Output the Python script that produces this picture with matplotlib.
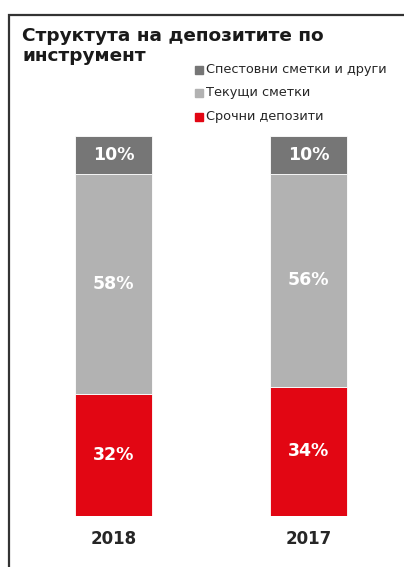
import matplotlib
matplotlib.use("Agg")
import matplotlib.pyplot as plt
from matplotlib.patches import Rectangle

years = ["2018", "2017"]
series_names = ["Срочни депозити", "Текущи сметки", "Спестовни сметки и други"]
term = [32, 34]
current = [58, 56]
savings = [10, 10]
colors = ["#E20613", "#B2B2B2", "#767676"]

W, H = 404, 567
fig = plt.figure(figsize=(W / 100, H / 100), dpi=100)
fig.patch.set_facecolor("white")

# Outer frame (left and top edges visible, the rest runs off the canvas)
frame = Rectangle((8.5 / W, -0.1), 1.2, (H - 14.5) / H + 0.1, transform=fig.transFigure,
                  fill=False, edgecolor="#333333", linewidth=1.6, zorder=0)
fig.add_artist(frame)

# Plot area mapped so that 0..100 % spans the bar heights
y_bot, y_top = 516, 136
ax = fig.add_axes([0, (H - y_bot) / H, 1, (y_bot - y_top) / H])
ax.set_ylim(0, 100)
c0, c1 = 113.5, 308.5
scale = c1 - c0
ax.set_xlim(-c0 / scale, (W - c0) / scale)
ax.axis("off")

x = list(range(len(years)))
bw = 77 / scale
bottom = [0] * len(years)
for vals, col in zip([term, current, savings], colors):
    ax.bar(x, vals, bw, bottom=bottom, color=col, edgecolor="white", linewidth=0.6)
    for xi, v, b in zip(x, vals, bottom):
        ax.text(xi, b + v / 2, f"{v}%", ha="center", va="center", color="white",
                fontsize=12.5, fontweight="bold")
    bottom = [b + v for b, v in zip(bottom, vals)]

for xi, yr in zip(x, years):
    ax.text(xi, -6, yr, ha="center", va="center", color="#262626",
            fontsize=12, fontweight="bold")

fig.text(22 / W, 1 - 27 / H, "Структута на депозитите по\nинструмент", ha="left", va="top",
         fontsize=13.3, fontweight="bold", color="#1a1a1a", linespacing=1.12)

# Legend entries, top to bottom
legend_y = [70, 93, 117]
for name, col, yy in zip(series_names[::-1], colors[::-1], legend_y):
    fig.add_artist(Rectangle((195 / W, 1 - (yy + 4) / H), 8 / W, 8 / H,
                             transform=fig.transFigure, color=col))
    fig.text(206 / W, 1 - yy / H, name, ha="left", va="center", fontsize=9.3,
             color="#262626")

fig.savefig("out.png", dpi=100)
